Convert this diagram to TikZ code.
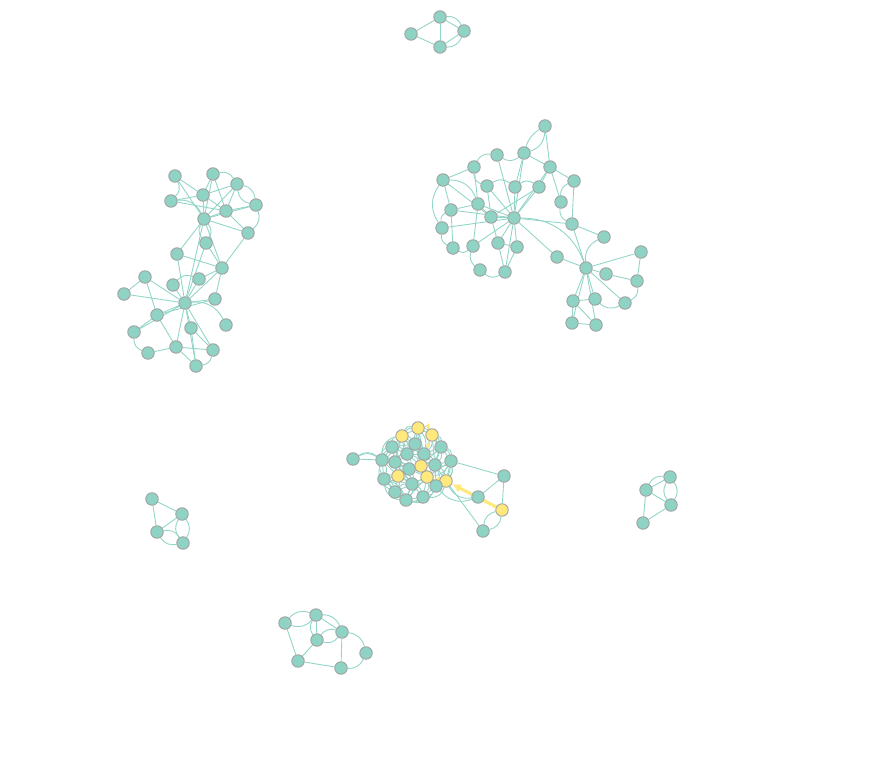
\documentclass[tikz,border=0pt]{standalone}
\usetikzlibrary{backgrounds,arrows.meta}
\definecolor{nodefill}{HTML}{8FD3C5}
\definecolor{edgec}{HTML}{92D6C8}
\definecolor{nodeline}{HTML}{A2A2A2}
\definecolor{ylw}{HTML}{FFE97C}
\tikzset{
  nd/.style={circle,inner sep=0pt,minimum size=12.5pt,fill=nodefill,draw=nodeline,line width=0.9pt},
  ynd/.style={nd,fill=ylw},
  ed/.style={draw=edgec,line width=0.9pt},
  yed/.style={draw=ylw,line width=1.6pt,-{Latex[length=5pt,width=5pt]}},
  ybig/.style={draw=ylw,line width=3.2pt,-{Latex[length=9pt,width=9pt]}}
}
\begin{document}
\begin{tikzpicture}[x=1pt,y=-1pt]
\useasboundingbox (0,0) rectangle (885,759);
% top component
\node[nd] (A1) at (440,17) {};
\node[nd] (A2) at (464,31) {};
\node[nd] (A3) at (411,34) {};
\node[nd] (A4) at (440,47) {};
% left component
\node[nd] (B1) at (175,176) {};
\node[nd] (B2) at (213,174) {};
\node[nd] (B3) at (237,184) {};
\node[nd] (B4) at (203,195) {};
\node[nd] (B5) at (171,201) {};
\node[nd] (B6) at (256,205) {};
\node[nd] (B7) at (226,211) {};
\node[nd] (B8) at (204,219) {};
\node[nd] (B9) at (248,233) {};
\node[nd] (B10) at (206,243) {};
\node[nd] (B11) at (177,254) {};
\node[nd] (B12) at (222,268) {};
\node[nd] (B13) at (145,277) {};
\node[nd] (B14) at (199,279) {};
\node[nd] (B15) at (173,285) {};
\node[nd] (B16) at (124,294) {};
\node[nd] (B17) at (215,299) {};
\node[nd] (B18) at (185,303) {};
\node[nd] (B19) at (157,315) {};
\node[nd] (B20) at (226,325) {};
\node[nd] (B21) at (191,328) {};
\node[nd] (B22) at (134,332) {};
\node[nd] (B23) at (176,347) {};
\node[nd] (B24) at (213,350) {};
\node[nd] (B25) at (148,353) {};
\node[nd] (B26) at (196,366) {};
% right-top component
\node[nd] (C1) at (545,126) {};
\node[nd] (C2) at (497,155) {};
\node[nd] (C3) at (524,153) {};
\node[nd] (C4) at (474,167) {};
\node[nd] (C5) at (550,167) {};
\node[nd] (C6) at (443,180) {};
\node[nd] (C7) at (574,181) {};
\node[nd] (C8) at (487,186) {};
\node[nd] (C9) at (515,187) {};
\node[nd] (C10) at (539,187) {};
\node[nd] (C11) at (561,202) {};
\node[nd] (C12) at (478,204) {};
\node[nd] (C13) at (451,210) {};
\node[nd] (C14) at (491,217) {};
\node[nd] (C15) at (514,218) {};
\node[nd] (C16) at (572,224) {};
\node[nd] (C17) at (442,228) {};
\node[nd] (C18) at (604,237) {};
\node[nd] (C19) at (453,248) {};
\node[nd] (C20) at (473,246) {};
\node[nd] (C21) at (498,243) {};
\node[nd] (C22) at (517,247) {};
\node[nd] (C23) at (557,257) {};
\node[nd] (C24) at (641,252) {};
\node[nd] (C25) at (480,270) {};
\node[nd] (C26) at (505,272) {};
\node[nd] (C27) at (586,268) {};
\node[nd] (C28) at (606,274) {};
\node[nd] (C29) at (637,281) {};
\node[nd] (C30) at (573,301) {};
\node[nd] (C31) at (595,299) {};
\node[nd] (C32) at (625,303) {};
\node[nd] (C33) at (572,323) {};
\node[nd] (C34) at (596,325) {};
% center component
\node[nd] (D1) at (353,459) {};
\node[ynd] (Y1) at (418,428) {};
\node[ynd] (Y2) at (402,436) {};
\node[ynd] (Y3) at (432,435) {};
\node[nd] (D2) at (392,447) {};
\node[nd] (D3) at (415,444) {};
\node[nd] (D4) at (441,447) {};
\node[nd] (D5) at (382,460) {};
\node[nd] (D6) at (395,462) {};
\node[nd] (D7) at (407,454) {};
\node[nd] (D8) at (424,454) {};
\node[nd] (D9) at (451,461) {};
\node[ynd] (Y4) at (421,466) {};
\node[nd] (D10) at (435,465) {};
\node[nd] (D11) at (409,469) {};
\node[nd] (D12) at (384,479) {};
\node[ynd] (Y5) at (398,476) {};
\node[ynd] (Y6) at (427,477) {};
\node[ynd] (Y7) at (446,481) {};
\node[nd] (D13) at (412,484) {};
\node[nd] (D14) at (436,486) {};
\node[nd] (D15) at (395,492) {};
\node[nd] (D16) at (423,497) {};
\node[nd] (D17) at (406,500) {};
\node[nd] (D18) at (504,476) {};
\node[nd] (D19) at (478,497) {};
\node[ynd] (Y8) at (502,510) {};
\node[nd] (D20) at (483,531) {};
% bottom-left component
\node[nd] (E1) at (152,499) {};
\node[nd] (E2) at (182,514) {};
\node[nd] (E3) at (157,532) {};
\node[nd] (E4) at (183,543) {};
% right small component
\node[nd] (F1) at (670,477) {};
\node[nd] (F2) at (646,490) {};
\node[nd] (F3) at (671,505) {};
\node[nd] (F4) at (643,523) {};
% bottom component
\node[nd] (G1) at (285,623) {};
\node[nd] (G2) at (316,615) {};
\node[nd] (G3) at (342,632) {};
\node[nd] (G4) at (317,640) {};
\node[nd] (G5) at (366,653) {};
\node[nd] (G6) at (298,661) {};
\node[nd] (G7) at (341,668) {};

\begin{pgfonlayer}{background}
% straight edges
\foreach \a/\b in {A3/A1,A3/A4,A1/A4,A1/A2,A4/A2,
  B1/B4,B1/B8,B2/B4,B2/B8,B2/B7,B3/B4,B3/B8,B3/B7,B4/B5,B4/B8,B4/B7,B6/B7,B6/B8,B7/B8,B7/B9,B8/B9,B8/B11,B8/B18,B10/B18,B11/B12,B11/B18,B12/B9,B12/B14,B12/B18,B12/B17,B13/B16,B13/B18,B13/B19,B14/B18,B15/B18,B16/B18,B17/B18,B17/B19,B18/B19,B18/B21,B18/B22,B18/B23,B18/B24,B18/B26,B19/B22,B19/B23,B21/B24,B21/B26,B23/B25,B23/B24,B23/B26,B8/B12,B5/B7,B10/B12,
  C1/C5,C2/C15,C3/C15,C3/C5,C3/C9,C4/C6,C4/C12,C5/C7,C5/C10,C5/C15,C5/C11,C6/C13,C7/C16,C8/C15,C8/C14,C9/C15,C10/C15,C10/C14,C12/C15,C12/C13,C12/C14,C12/C20,C13/C15,C13/C19,C14/C15,C14/C21,C15/C17,C15/C16,C15/C20,C15/C21,C15/C22,C15/C26,C15/C23,C16/C18,C16/C27,C21/C26,C22/C26,C21/C22,C23/C27,C24/C27,C24/C29,C27/C28,C27/C30,C27/C31,C27/C32,C27/C33,C27/C34,C28/C29,C30/C31,C30/C33,C33/C34,C30/C34,C6/C14,
  D1/D5,D9/D18,D18/D19,D18/Y8,D19/Y8,Y7/D20,
  E1/E2,E1/E3,E3/E2,
  F2/F1,F2/F3,F2/F4,F4/F3,
  G1/G6,G2/G3,G4/G6,G3/G7,G6/G7,G2/G4}
  \draw[ed] (\a) -- (\b);
% curved edges
\foreach \a/\b in {A1/A2,A2/A4,
  B1/B5,B5/B8,B2/B3,B3/B6,B6/B9,B8/B10,B10/B8,B15/B14,B18/B20,B25/B22,B24/B26,B6/B3,
  C1/C3,C3/C2,C4/C2,C8/C4,C6/C12,C17/C6,C11/C7,C8/C9,C9/C10,C16/C11,C17/C13,C19/C17,C20/C19,C25/C20,C26/C25,C15/C27,C27/C18,C29/C32,C32/C31,
  D1/D5,Y8/D20,D20/Y8,D19/Y7,D19/D14,
  E3/E4,E4/E3,E2/E4,E4/E2,
  F2/F1,F1/F3,F3/F1,
  G1/G2,G2/G1,G2/G3,G4/G2,G4/G3,G3/G4,G3/G5,G5/G7}
  \draw[ed] (\a) to[bend left=35] (\b);
\draw[ed] (D5) to[bend right=30] (D1);
\draw[ed] (C3) to[bend left=20] (C1);
% dense center mesh
\foreach \a/\b in {Y2/Y1,Y1/Y3,Y2/D2,Y2/D3,Y2/D7,Y1/D3,Y1/D8,Y3/D8,Y3/D4,D3/D7,D3/D8,D2/D5,D2/D6,D2/D7,D4/D8,D4/D9,D4/D10,D5/D6,D5/D12,D6/D7,D6/D11,D6/Y5,D7/D11,D7/Y4,D8/Y4,D8/D10,D9/D10,D9/Y7,Y4/D10,Y4/D11,Y4/Y6,D10/Y6,D10/Y7,D10/D14,D11/Y5,D11/D13,D12/Y5,D12/D15,Y5/D13,Y5/D15,Y6/D13,Y6/D14,Y6/D16,Y7/D14,D13/D16,D13/D17,D15/D17,D16/D17,D14/D16,D2/Y5,D5/D11,Y2/D6,D3/Y4,Y1/D7,Y3/D10,D9/Y6,D12/D17,D15/D13,D5/Y5,D7/D8,D11/Y6,D6/D13,D2/D3,D4/Y4,D9/D14,D12/D13,D17/Y6}
  {\draw[ed] (\a) -- (\b); \draw[ed] (\a) to[bend left=25] (\b);}
\foreach \a/\b in {D5/Y2,D12/D2,D15/D5,D17/D12,D16/D15,D14/D17,Y7/D16,D9/D14,D4/D9,Y3/D4,Y1/Y3,Y2/Y1,D2/Y2,D5/D2}
  \draw[ed] (\a) to[bend left=40] (\b);
% highlighted path
\draw[yed] (Y7) -- (Y6);
\draw[yed] (Y6) -- (Y4);
\draw[yed] (Y4) -- (Y3);
\draw[yed] (Y3) to[bend right=40] (Y1);
\draw[ybig] (Y8) -- (Y7);
\end{pgfonlayer}
\end{tikzpicture}
\end{document}
